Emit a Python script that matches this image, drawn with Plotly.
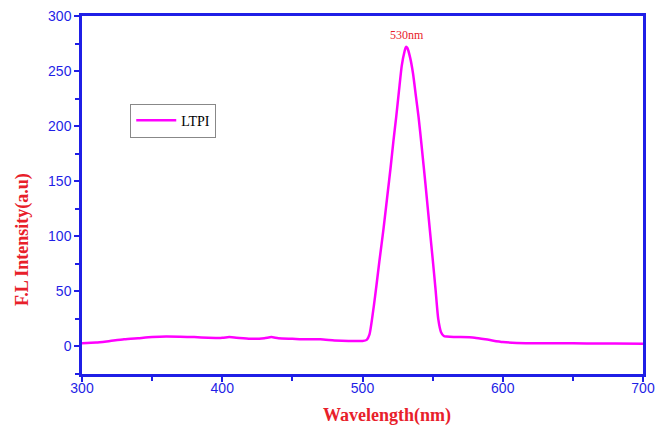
import plotly.graph_objects as go

wavelength = [300, 310, 320, 330, 340, 350, 360, 370, 380, 390, 400, 405, 410, 420, 430, 435,
              440, 450, 460, 470, 480, 490, 500, 503, 505, 508, 510, 512, 515, 518, 520, 522,
              524, 526, 528, 530, 531, 532, 534, 536, 538, 540, 542, 545, 548, 550, 552, 554,
              556, 558, 560, 565, 570, 580, 590, 600, 610, 620, 640, 660, 680, 700]
intensity = [3, 3.5, 5, 6.5, 7.5, 8.5, 9, 8.8, 8.5, 8, 7.8, 8.5, 8, 7, 7.5, 8.5,
             7.5, 7, 6.5, 6.5, 5.5, 5, 5, 6, 11, 36, 56, 77, 107, 140, 162, 186,
             208, 232, 255, 268, 272, 271, 262, 248, 228, 208, 184, 146, 106, 80, 53, 25,
             13, 9.5, 9, 8.5, 8.5, 8, 6, 4, 3.2, 3, 3, 2.8, 2.6, 2.5]

series_name = "LTPI"
peak_label = "530nm"
x_title = "Wavelength(nm)"
y_title = "F.L Intensity(a.u)"
x_ticks = [300, 400, 500, 600, 700]
y_ticks = [0, 50, 100, 150, 200, 250, 300]

blue = "#1f1fe6"
red = "#e8202a"

fig = go.Figure()
fig.add_trace(go.Scatter(
    x=wavelength, y=intensity, mode="lines", name=series_name,
    line=dict(color="#ff00ff", width=2.5, shape="spline", smoothing=0.6),
))

fig.add_annotation(x=531.5, y=283, text=peak_label, showarrow=False,
                   font=dict(family="Liberation Serif", size=12, color=red),
                   xanchor="center", yanchor="middle")

# axis titles (placed as in the reference, offset from the axis centre)
fig.add_annotation(x=0.544, y=-0.117, xref="paper", yref="paper", text="<b>" + x_title + "</b>",
                   showarrow=False, xanchor="center", yanchor="middle",
                   font=dict(family="Liberation Serif", size=18, color=red))
fig.add_annotation(x=-0.107, y=0.377, xref="paper", yref="paper", text="<b>" + y_title + "</b>",
                   showarrow=False, xanchor="center", yanchor="middle", textangle=-90,
                   font=dict(family="Liberation Serif", size=18, color=red))

axis_common = dict(
    showline=True, linecolor=blue, linewidth=2.5, mirror=True,
    ticks="outside", tickcolor=blue, tickwidth=2, ticklen=5,
    showgrid=False, zeroline=False, automargin=False,
    tickfont=dict(family="Liberation Sans", size=14, color=blue),
)

fig.update_xaxes(range=[300, 700], tickvals=x_ticks, ticklabelstandoff=-6,
                 minor=dict(dtick=50, tick0=300, ticks="outside", ticklen=4, tickcolor=blue, tickwidth=2),
                 **axis_common)
fig.update_yaxes(range=[-25, 300], tickvals=y_ticks,
                 minor=dict(dtick=25, tick0=0, ticks="outside", ticklen=4, tickcolor=blue, tickwidth=2),
                 **axis_common)

fig.update_layout(
    width=656, height=426,
    margin=dict(l=82, r=13, t=16, b=52),
    plot_bgcolor="white", paper_bgcolor="white",
    showlegend=True,
    legend=dict(x=0.086, y=0.755, xanchor="left", yanchor="top",
                bordercolor="#888888", borderwidth=1, bgcolor="white",
                font=dict(family="Liberation Serif", size=14, color="black"),
                itemwidth=40, tracegroupgap=0),
)

fig.write_html("out.html")
